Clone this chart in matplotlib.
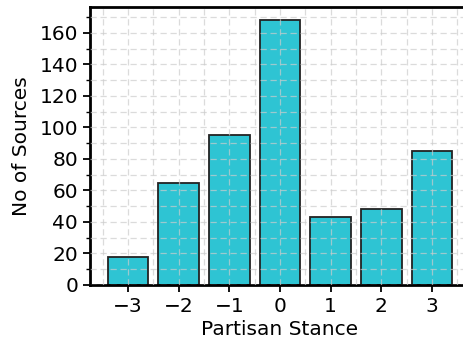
import matplotlib
matplotlib.use("Agg")
import matplotlib.pyplot as plt
from matplotlib.ticker import MultipleLocator

stances = [-3, -2, -1, 0, 1, 2, 3]
counts = [18, 65, 95, 168, 43, 48, 85]

fig = plt.figure(figsize=(4.63, 3.43), dpi=100)
ax = fig.add_axes([90 / 463, 58 / 343, 380 / 463, 278 / 343])

ax.bar(stances, counts, width=0.8, color="#2ec4d3", edgecolor="#222222",
       linewidth=1.3, zorder=2)

ax.set_xlim(-3.75, 3.75)
ax.set_ylim(0, 176.4)
ax.set_xticks(stances)
ax.set_xticklabels([f"\u2212{abs(s)}" if s < 0 else str(s) for s in stances])
ax.xaxis.set_minor_locator(MultipleLocator(0.5))
ax.yaxis.set_major_locator(MultipleLocator(20))
ax.yaxis.set_minor_locator(MultipleLocator(10))

ax.grid(True, which="both", linestyle=(0, (5, 3)), color="#cccccc",
        linewidth=0.9, alpha=0.7, zorder=3)
ax.set_axisbelow(False)

for side in ("left", "top", "bottom"):
    ax.spines[side].set_linewidth(2)
ax.spines["right"].set_visible(False)

ax.tick_params(axis="both", which="major", labelsize=14.5, width=1.3, length=5)
ax.tick_params(axis="x", which="minor", length=0)
ax.tick_params(axis="y", which="minor", width=1, length=3)

ax.set_xlabel("Partisan Stance", fontsize=14.5, labelpad=3)
ax.set_ylabel("No of Sources", fontsize=14.5, labelpad=6)

fig.savefig("out.png", dpi=100)
